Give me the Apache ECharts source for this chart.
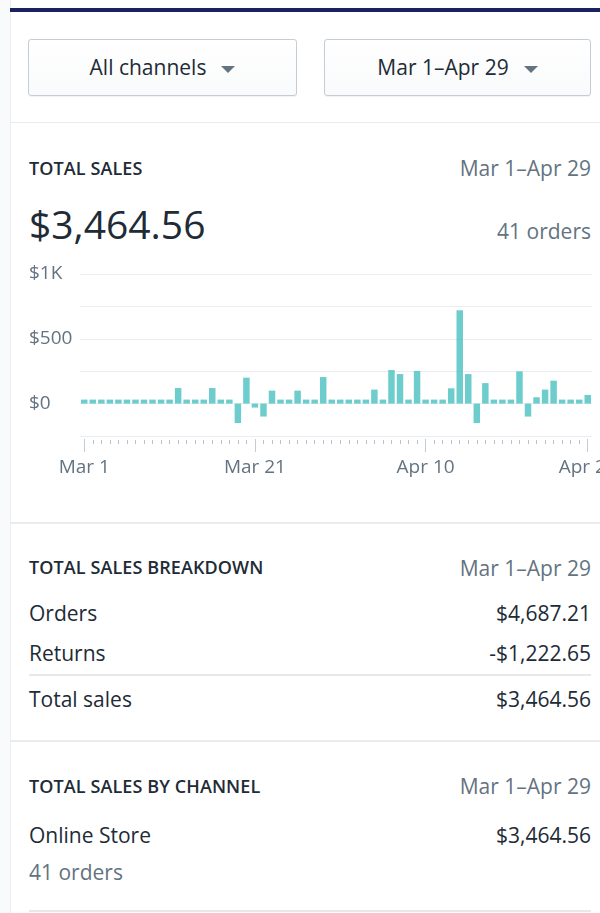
<!DOCTYPE html>
<html>
<head>
<meta charset="utf-8">
<title>Total sales</title>
<script src="https://cdn.jsdelivr.net/npm/echarts@6/dist/echarts.min.js"></script>
<style>
  html, body {
    margin: 0;
    padding: 0;
    width: 600px;
    height: 913px;
    overflow: hidden;
    background: #f9fafb;
    font-family: "Open Sans", "Noto Sans", sans-serif;
    color: #212b36;
  }
  .card {
    position: absolute;
    left: 10px;
    top: 0;
    width: 590px;
    height: 913px;
    background: #ffffff;
    border-left: 1px solid #eceef1;
  }
  .topbar {
    position: absolute;
    left: 10px;
    top: 8px;
    width: 590px;
    height: 4px;
    background: #1c2260;
  }
  .btn {
    position: absolute;
    top: 39px;
    height: 57px;
    box-sizing: border-box;
    border: 1px solid #c4cdd5;
    border-radius: 3px;
    background: linear-gradient(#ffffff, #f9fafb);
    box-shadow: 0 1px 0 rgba(22, 29, 37, 0.05);
    font-size: 21px;
    line-height: 55px;
    text-align: center;
    color: #212b36;
  }
  .btn .caret {
    display: inline-block;
    width: 0;
    height: 0;
    margin-left: 15px;
    vertical-align: middle;
    border-left: 7px solid transparent;
    border-right: 7px solid transparent;
    border-top: 7px solid #637381;
  }
  .divider {
    position: absolute;
    left: 10px;
    width: 590px;
    height: 2px;
    background: #e9ecef;
  }
  .rule {
    position: absolute;
    left: 29px;
    width: 562px;
    height: 2px;
    background: #e6e9ec;
  }
  .txt {
    position: absolute;
    height: 30px;
    line-height: 30px;
    white-space: nowrap;
    font-size: 21px;
  }
  .l { left: 29px; }
  .r { right: 9px; text-align: right; }
  .head {
    font-size: 18px;
    font-weight: 600;
    letter-spacing: 0.1px;
  }
  .muted { color: #637381; }
  .big { font-size: 39px; height: 50px; line-height: 50px; }
  #chart {
    position: absolute;
    left: 0;
    top: 250px;
    width: 600px;
    height: 250px;
  }
</style>
</head>
<body>
<div class="card"></div>
<div class="topbar"></div>

<div class="btn" style="left:28px;width:269px;">All channels<span class="caret"></span></div>
<div class="btn" style="left:324px;width:267px;">Mar 1–Apr 29<span class="caret"></span></div>
<div class="divider" style="top:122px;height:1px;"></div>

<div class="txt l head" style="top:153px;">TOTAL SALES</div>
<div class="txt r muted" style="top:153px;">Mar 1–Apr 29</div>
<div class="txt l big" style="top:199px;">$3,464.56</div>
<div class="txt r muted" style="top:216px;">41 orders</div>
<div id="chart"></div>

<div class="divider" style="top:522px;"></div>
<div class="txt l head" style="top:552px;">TOTAL SALES BREAKDOWN</div>
<div class="txt r muted" style="top:553px;">Mar 1–Apr 29</div>
<div class="txt l" style="top:598px;">Orders</div>
<div class="txt r" style="top:598px;">$4,687.21</div>
<div class="txt l" style="top:638px;">Returns</div>
<div class="txt r" style="top:638px;">-$1,222.65</div>
<div class="rule" style="top:674px;"></div>
<div class="txt l" style="top:684px;">Total sales</div>
<div class="txt r" style="top:684px;">$3,464.56</div>

<div class="divider" style="top:740px;"></div>
<div class="txt l head" style="top:771px;">TOTAL SALES BY CHANNEL</div>
<div class="txt r muted" style="top:771px;">Mar 1–Apr 29</div>
<div class="txt l" style="top:820px;">Online Store</div>
<div class="txt r" style="top:820px;">$3,464.56</div>
<div class="txt l muted" style="top:857px;">41 orders</div>
<div class="rule" style="top:910px;"></div>

<script>
// 日期（Mar 1 – Apr 29）
const days = [
  'Mar 1', 'Mar 2', 'Mar 3', 'Mar 4', 'Mar 5', 'Mar 6', 'Mar 7', 'Mar 8', 'Mar 9', 'Mar 10',
  'Mar 11', 'Mar 12', 'Mar 13', 'Mar 14', 'Mar 15', 'Mar 16', 'Mar 17', 'Mar 18', 'Mar 19', 'Mar 20',
  'Mar 21', 'Mar 22', 'Mar 23', 'Mar 24', 'Mar 25', 'Mar 26', 'Mar 27', 'Mar 28', 'Mar 29', 'Mar 30',
  'Mar 31', 'Apr 1', 'Apr 2', 'Apr 3', 'Apr 4', 'Apr 5', 'Apr 6', 'Apr 7', 'Apr 8', 'Apr 9',
  'Apr 10', 'Apr 11', 'Apr 12', 'Apr 13', 'Apr 14', 'Apr 15', 'Apr 16', 'Apr 17', 'Apr 18', 'Apr 19',
  'Apr 20', 'Apr 21', 'Apr 22', 'Apr 23', 'Apr 24', 'Apr 25', 'Apr 26', 'Apr 27', 'Apr 28', 'Apr 29',
];

// 每日销售额（净值，退货为负）
const sales = [
  0, 0, 0, 0, 30, 0, 0, 0, 0, 0,
  0, 120, 0, 0, 0, 120, 0, 0, -150, 200,
  -30, -100, 100, 0, 0, 100, 0, 0, 205, 0,
  0, 0, 0, 0, 108, 0, 259, 228, 0, 252,
  0, 0, 0, 118, 720, 228, -150, 158, 0, 0,
  0, 249, -100, 49, 108, 177, 0, 0, 0, 67,
];

// 坐标轴刻度
const yTickLabels = { 1000: '$1K', 500: '$500', 0: '$0' };
const xLabelDays = ['Mar 1', 'Mar 21', 'Apr 10', 'Apr 29'];

const barColor = '#47c1bf';
const grey = '#637381';

const mychart = echarts.init(document.getElementById('chart'));

const showLabel = (index, value) => xLabelDays.includes(value);

// 两个网格位置相同：一个画柱子和每日短刻度，一个只画带文字的长刻度
const gridBox = {
  left: 80,
  right: 8,
  top: 24,
  height: 162,
  outerBoundsMode: 'none',
};

const option = {
  animation: false,
  grid: [gridBox, gridBox],
  xAxis: [
    {
      // 每日短刻度
      type: 'category',
      gridIndex: 0,
      data: days,
      position: 'bottom',
      offset: 4,
      axisLine: { show: false, onZero: false },
      axisTick: {
        show: true,
        interval: 0,
        alignWithLabel: true,
        length: 4,
        lineStyle: { color: '#b8c2cc' },
      },
      axisLabel: { show: false },
    },
    {
      // 带文字的长刻度
      type: 'category',
      gridIndex: 1,
      data: days,
      position: 'bottom',
      offset: 3,
      axisLine: { show: false, onZero: false },
      axisTick: {
        show: true,
        interval: showLabel,
        alignWithLabel: true,
        length: 13,
        lineStyle: { color: '#c4cdd5' },
      },
      axisLabel: {
        interval: showLabel,
        color: grey,
        fontSize: 19,
        fontFamily: 'Open Sans',
        margin: 19,
      },
    },
  ],
  yAxis: [
    {
      type: 'value',
      gridIndex: 0,
      min: -250,
      max: 1000,
      interval: 250,
      axisLine: { show: false },
      axisTick: { show: false },
      splitLine: {
        lineStyle: { color: '#ebeef0', width: 1 },
      },
      axisLabel: {
        align: 'left',
        margin: 51,
        color: grey,
        fontSize: 19,
        fontFamily: 'Open Sans',
        formatter: (v) => yTickLabels[v] || '',
      },
    },
    {
      type: 'value',
      gridIndex: 1,
      min: -250,
      max: 1000,
      interval: 250,
      show: false,
    },
  ],
  series: [
    {
      name: 'Total sales',
      type: 'bar',
      xAxisIndex: 0,
      yAxisIndex: 0,
      data: sales,
      barCategoryGap: '24%',
      barMinHeight: 4,
      itemStyle: {
        color: barColor,
        opacity: 0.8,
      },
    },
  ],
};

mychart.setOption(option);

// 监听窗口变化，自适应图表大小
window.addEventListener('resize', () => {
  mychart.resize();
});
</script>
</body>
</html>
